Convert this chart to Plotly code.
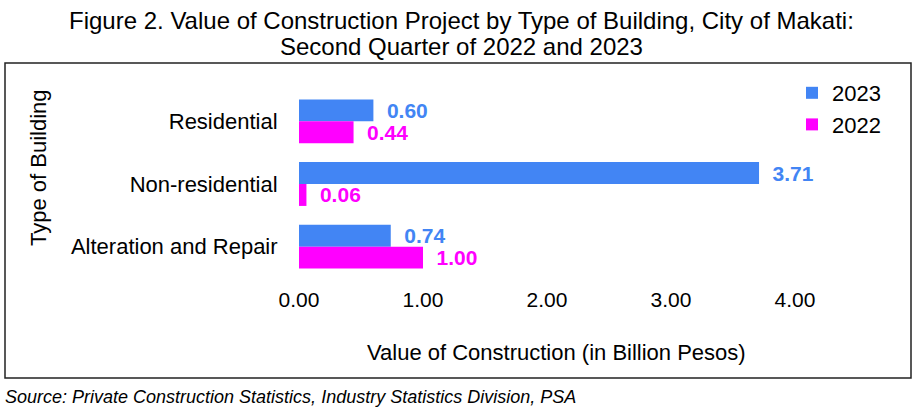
import plotly.graph_objects as go

# ---- data ----
categories = ["Residential", "Non-residential", "Alteration and Repair"]
values_2023 = [0.60, 3.71, 0.74]
values_2022 = [0.44, 0.06, 1.00]
series_names = ["2023", "2022"]
tick_values = [0, 1, 2, 3, 4]
tick_labels = ["0.00", "1.00", "2.00", "3.00", "4.00"]

title_line1 = "Figure 2. Value of Construction Project by Type of Building, City of Makati:"
title_line2 = "Second Quarter of 2022 and 2023"
x_title = "Value of Construction (in Billion Pesos)"
y_title = "Type of Building"
source_text = "Source: Private Construction Statistics, Industry Statistics Division, PSA"

# ---- style ----
W, H = 918, 415
ML, MR, MT, MB = 299, 23, 90, 137
PX_PER_UNIT = 124
PW = W - ML - MR
PH = H - MT - MB
XMAX = PW / PX_PER_UNIT
BLUE = "#4285F4"
PINK = "#FF00FF"
FONT = "Liberation Sans, Arial, sans-serif"


def px_x(px):
    return (px - ML) / PW


def px_y(py):
    return 1 - (py - MT) / PH


fig = go.Figure()
for name, vals, col in [(series_names[0], values_2023, BLUE), (series_names[1], values_2022, PINK)]:
    fig.add_trace(go.Bar(
        name=name, legendgroup=name,
        y=categories, x=vals, orientation="h",
        marker=dict(color=col, line=dict(width=0)),
        text=["\u2002" + f"{v:.2f}" for v in vals],
        textposition="outside",
        textfont=dict(family=FONT, size=21, color=col, weight="bold"),
        cliponaxis=False, constraintext="none",
        hoverinfo="skip",
    ))

fig.update_layout(
    width=W, height=H,
    margin=dict(l=ML, r=MR, t=MT, b=MB),
    paper_bgcolor="white", plot_bgcolor="white",
    barmode="group", bargap=0.3, bargroupgap=0,
    font=dict(family=FONT, size=22, color="#000"),
    legend=dict(x=px_x(792), y=px_y(72), xanchor="left", yanchor="top",
                font=dict(family=FONT, size=22, color="#000"),
                tracegroupgap=7, bgcolor="rgba(0,0,0,0)", traceorder="normal"),
    xaxis=dict(range=[0, XMAX], tickvals=tick_values, ticktext=tick_labels,
               showgrid=False, zeroline=False, showline=False,
               ticks="outside", ticklen=3, tickcolor="rgba(0,0,0,0)",
               tickfont=dict(family=FONT, size=21, color="#000")),
    yaxis=dict(autorange="reversed", showgrid=False, zeroline=False, showline=False,
               ticks="outside", ticklen=16, tickcolor="rgba(0,0,0,0)",
               tickfont=dict(family=FONT, size=22, color="#000")),
    shapes=[dict(type="rect", xref="paper", yref="paper",
                 x0=px_x(5), x1=px_x(911), y0=px_y(378), y1=px_y(63),
                 line=dict(color="#222", width=1.5), fillcolor="rgba(0,0,0,0)", layer="below")],
    annotations=[
        dict(text=title_line1, xref="paper", yref="paper", x=px_x(461), y=px_y(20),
             xanchor="center", yanchor="middle", showarrow=False,
             font=dict(family=FONT, size=24, color="#000")),
        dict(text=title_line2, xref="paper", yref="paper", x=px_x(461), y=px_y(46),
             xanchor="center", yanchor="middle", showarrow=False,
             font=dict(family=FONT, size=24, color="#000")),
        dict(text=x_title, xref="paper", yref="paper", x=px_x(556.5), y=px_y(352),
             xanchor="center", yanchor="middle", showarrow=False,
             font=dict(family=FONT, size=22, color="#000")),
        dict(text=y_title, xref="paper", yref="paper", x=px_x(38), y=px_y(168),
             xanchor="center", yanchor="middle", showarrow=False, textangle=-90,
             font=dict(family=FONT, size=22, color="#000")),
        dict(text="<i>" + source_text + "</i>", xref="paper", yref="paper", x=px_x(3), y=px_y(397),
             xanchor="left", yanchor="middle", showarrow=False,
             font=dict(family=FONT, size=18, color="#000")),
    ],
)

fig.write_html("out.html", config={"displayModeBar": False},
               post_script="document.body.style.margin='0px';")
